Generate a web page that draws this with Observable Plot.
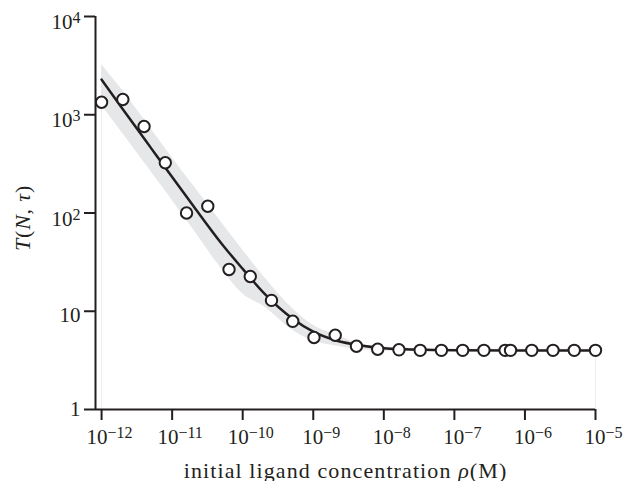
<!DOCTYPE html>
<html><head><meta charset="utf-8">
<script src="https://cdn.jsdelivr.net/npm/d3@7"></script>
<script src="https://cdn.jsdelivr.net/npm/@observablehq/plot@0.6"></script>
<style>
body{margin:0;background:#fff;}
#chart svg{font-family:"Liberation Serif","Times New Roman",serif;background:#fff;}
</style></head><body><div id="chart"></div>
<script>
// measured points: initial ligand concentration (M) and T(N,tau)
const concentration = [1e-12, 2e-12, 4e-12, 8e-12, 1.6e-11, 3.2e-11, 6.4e-11, 1.28e-10, 2.56e-10, 5.12e-10,
  1.024e-9, 2.048e-9, 4.096e-9, 8.192e-9, 1.6384e-8, 3.2768e-8, 6.5536e-8, 1.31072e-7, 2.62144e-7, 5.24288e-7,
  6.25e-7, 1.25e-6, 2.5e-6, 5e-6, 1e-5];
const T = [1340, 1430, 760, 325, 100, 117, 26.6, 22.6, 12.9, 7.9,
  5.4, 5.7, 4.4, 4.1, 4.05, 4.0, 4.0, 4.0, 4.0, 4.0,
  4.0, 4.0, 4.0, 4.0, 4.0];

// fitted curve
const fitConcentration = [1e-12, 2e-12, 5e-12, 1e-11, 2e-11, 5e-11, 1e-10, 2e-10, 5e-10, 1e-9, 2e-9, 5e-9, 1e-8, 2e-8, 5e-8, 1e-7, 1e-6, 1e-5];
const fitT = [2280, 1140, 460, 232, 118, 49, 27, 15.3, 8.5, 6.2, 5.1, 4.45, 4.2, 4.1, 4.03, 4.0, 3.98, 3.98];

// shaded confidence band
const bandConcentration = [1e-12, 2e-12, 5e-12, 1e-11, 2e-11, 5e-11, 1e-10, 2e-10, 5e-10, 1e-9, 2e-9, 5e-9, 1e-8, 2e-8, 1e-7, 1e-6, 1e-5];
const bandLower = [1250, 640, 265, 135, 68, 27, 15, 11.2, 6.5, 4.97, 4.46, 4.05, 3.95, 3.9, 3.88, 3.88, 3.88];
const bandUpper = [3240, 1750, 720, 365, 190, 80, 42, 22.5, 10.8, 7.2, 5.8, 4.6, 4.35, 4.2, 4.1, 4.1, 4.1];

const xTicks = [1e-12, 1e-11, 1e-10, 1e-9, 1e-8, 1e-7, 1e-6, 1e-5];
const xTickLabels = ["10^−12", "10^−11", "10^−10", "10^−9", "10^−8", "10^−7", "10^−6", "10^−5"];
const yTicks = [1, 10, 100, 1000, 10000];
const yTickLabels = ["1", "10", "10^2", "10^3", "10^4"];
const xDomain = [8.2e-13, 1e-5];
const yDomain = [1, 1e4];
const xLabel = "initial ligand concentration *ρ*(M)";
const yLabel = "*T*(*N*, *τ*)";

const ink = "#231f20";
const points = concentration.map((c, i) => ({c, t: T[i]}));
const fit = fitConcentration.map((c, i) => ({c, t: fitT[i]}));
const band = bandConcentration.map((c, i) => ({c, lo: bandLower[i], hi: bandUpper[i]}));
const nearest = (ticks, labels) => d => {
  let best = 0;
  ticks.forEach((t, i) => { if (Math.abs(Math.log10(t) - Math.log10(d)) < Math.abs(Math.log10(ticks[best]) - Math.log10(d))) best = i; });
  return labels[best];
};

const chart = Plot.plot({
  width: 636,
  height: 481,
  marginLeft: 95,
  marginRight: 41,
  marginTop: 16,
  marginBottom: 72,
  x: {type: "log", domain: xDomain},
  y: {type: "log", domain: yDomain},
  marks: [
    Plot.areaY(band, {x: "c", y1: "lo", y2: "hi", fill: "#e6e7e8", curve: "monotone-x"}),
    Plot.ruleX([band[0], band[band.length - 1]], {x: "c", y1: yDomain[0], y2: "lo", stroke: "#eeeeee", strokeWidth: 1}),
    Plot.line(fit, {x: "c", y: "t", stroke: ink, strokeWidth: 2.5, curve: "monotone-x"}),
    Plot.dot(points, {x: "c", y: "t", r: 5.7, fill: "white", stroke: ink, strokeWidth: 2}),
    Plot.ruleY([yDomain[0]], {x1: xDomain[0], x2: xDomain[1], stroke: ink, strokeWidth: 2}),
    Plot.ruleX([xDomain[0]], {y1: yDomain[0], y2: yDomain[1], stroke: ink, strokeWidth: 2}),
    Plot.axisX({ticks: xTicks, tickFormat: nearest(xTicks, xTickLabels), tickSize: 11, tickPadding: 9,
      stroke: ink, strokeWidth: 2, fill: ink, fontSize: 21,
      label: xLabel, labelAnchor: "center", labelOffset: 68, labelArrow: "none"}),
    Plot.axisY({ticks: yTicks, tickFormat: nearest(yTicks, yTickLabels), tickSize: 11, tickPadding: 4,
      stroke: ink, strokeWidth: 2, fill: ink, fontSize: 21,
      label: yLabel, labelAnchor: "center", labelOffset: 81, labelArrow: "none"})
  ]
});
document.getElementById("chart").appendChild(chart);

// rich text: ^ starts superscript, *...* italic
function rich(el, supSize, supShift) {
  const s = el.textContent;
  const sel = d3.select(el);
  sel.text(null);
  let base = s, sup = null;
  const k = s.indexOf("^");
  if (k >= 0) { base = s.slice(0, k); sup = s.slice(k + 1); }
  const parts = base.split("*");
  parts.forEach((p, i) => {
    if (!p) return;
    const ts = sel.append("tspan").text(p);
    if (i % 2 === 1) ts.attr("font-style", "italic");
  });
  if (sup !== null) {
    sel.append("tspan").attr("font-size", supSize).attr("dy", -supShift).text(sup);
  }
}
const svg = d3.select(chart);
svg.selectAll('g[aria-label="x-axis tick label"] text').each(function () {
  rich(this, 16, 6);
  const tr = d3.select(this).attr("transform") || "";
  d3.select(this).attr("transform", tr + " translate(8,0)");
});
svg.selectAll('g[aria-label="y-axis tick label"] text').each(function () {
  const hasSup = this.textContent.includes("^");
  const isTen = this.textContent === "10";
  rich(this, 16, 6);
  const tr = d3.select(this).attr("transform") || "";
  d3.select(this).attr("transform", tr + ` translate(0,${hasSup ? 6 : isTen ? 4 : 0})`);
});
svg.selectAll('g[aria-label="x-axis label"] text').each(function () {
  rich(this, 16, 6);
  d3.select(this).attr("font-size", 22).attr("fill", ink).attr("letter-spacing", 1.1);
});
svg.selectAll('g[aria-label="y-axis label"] text').each(function () {
  rich(this, 16, 6);
  d3.select(this).attr("font-size", 22).attr("fill", ink).attr("letter-spacing", 0.8);
  const tr = d3.select(this).attr("transform") || "";
  d3.select(this).attr("transform", tr + " translate(-5,0)");
});
svg.selectAll('g[aria-label="x-axis label"], g[aria-label="y-axis label"]').attr("font-size", 22).attr("fill", ink);
</script></body></html>
